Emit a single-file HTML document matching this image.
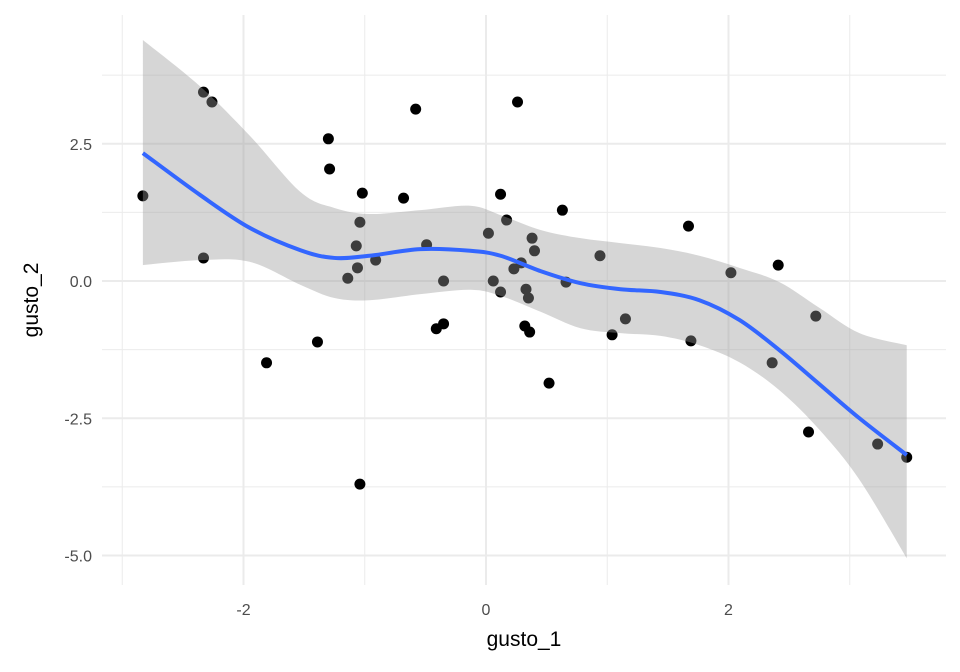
<!DOCTYPE html>
<html><head><meta charset="utf-8"><style>
body{margin:0;background:#fff;}
svg{display:block;font-family:"Liberation Sans",sans-serif;}
</style></head><body>
<svg id="chart" width="960" height="672"></svg>
<script>
const pointsX=[-2.83,-2.33,-2.26,-2.33,-1.81,-1.39,-1.30,-1.29,-1.14,-1.07,-1.06,-1.04,-1.02,-1.04,-0.91,-0.68,-0.58,-0.49,-0.41,-0.35,-0.35,0.02,0.06,0.12,0.12,0.17,0.23,0.26,0.29,0.33,0.35,0.32,0.36,0.38,0.40,0.52,0.63,0.66,0.94,1.04,1.15,1.67,1.69,2.02,2.36,2.41,2.66,2.72,3.23,3.47];
const pointsY=[1.55,3.44,3.26,0.42,-1.49,-1.11,2.59,2.04,0.05,0.64,0.24,1.07,1.60,-3.70,0.38,1.51,3.13,0.66,-0.87,-0.78,0.0,0.87,0.0,1.58,-0.20,1.11,0.22,3.26,0.33,-0.15,-0.31,-0.82,-0.93,0.78,0.55,-1.86,1.29,-0.02,0.46,-0.98,-0.69,1.0,-1.09,0.15,-1.49,0.29,-2.75,-0.64,-2.97,-3.21];
const fitX=[-2.83,-2.36,-1.95,-1.53,-1.25,-0.96,-0.54,-0.13,0.12,0.45,0.78,1.11,1.44,1.76,2.09,2.42,2.75,3.08,3.47];
const fitY=[2.33,1.57,0.97,0.56,0.42,0.46,0.58,0.55,0.46,0.18,-0.04,-0.15,-0.20,-0.35,-0.71,-1.26,-1.88,-2.50,-3.17];
const fitUpper=[4.39,3.55,2.65,1.62,1.33,1.22,1.29,1.37,1.20,0.93,0.78,0.69,0.60,0.46,0.24,-0.02,-0.49,-0.95,-1.17];
const fitLower=[0.29,0.38,0.35,-0.07,-0.31,-0.35,-0.24,-0.16,-0.27,-0.56,-0.86,-0.95,-1.00,-1.17,-1.48,-1.99,-2.71,-3.62,-5.05];
const xTicks=[-2,0,2], xMinor=[-3,-1,1,3];
const yTicks=[-5,-2.5,0,2.5], yMinor=[-3.75,-1.25,1.25,3.75];
const xTickLabels=["-2","0","2"], yTickLabels=["-5.0","-2.5","0.0","2.5"];

const NS="http://www.w3.org/2000/svg", svg=document.getElementById('chart');
const sx=v=>486+v*121.25, sy=v=>281-v*54.9;
const L=102,R=946,T=15,B=585;
function mk(t,a,p){const e=document.createElementNS(NS,t);for(const k in a)e.setAttribute(k,a[k]);(p||svg).appendChild(e);return e;}
function curve(P,move){let s=(move?'M':'L')+P[0][0]+','+P[0][1];
for(let i=0;i<P.length-1;i++){const p0=P[Math.max(i-1,0)],p1=P[i],p2=P[i+1],p3=P[Math.min(i+2,P.length-1)];
s+='C'+(p1[0]+(p2[0]-p0[0])/6)+','+(p1[1]+(p2[1]-p0[1])/6)+' '+(p2[0]-(p3[0]-p1[0])/6)+','+(p2[1]-(p3[1]-p1[1])/6)+' '+p2[0]+','+p2[1];}
return s;}
const grid=mk('g',{});


xMinor.forEach(v=>mk('line',{x1:sx(v),x2:sx(v),y1:T,y2:B,stroke:'#ebebeb','stroke-width':1},grid));
yMinor.forEach(v=>mk('line',{x1:L,x2:R,y1:sy(v),y2:sy(v),stroke:'#ebebeb','stroke-width':1},grid));
xTicks.forEach(v=>mk('line',{x1:sx(v),x2:sx(v),y1:T,y2:B,stroke:'#ebebeb','stroke-width':2},grid));
yTicks.forEach(v=>mk('line',{x1:L,x2:R,y1:sy(v),y2:sy(v),stroke:'#ebebeb','stroke-width':2},grid));
const pts=mk('g',{});


pointsX.forEach((x,i)=>{const c=mk('circle',{cx:sx(x),cy:sy(pointsY[i]),r:5.5,fill:'#000'},pts);

});
const up=fitX.map((x,i)=>[sx(x),sy(fitUpper[i])]);
const lo=fitX.map((x,i)=>[sx(x),sy(fitLower[i])]).reverse();
const rib=mk('path',{d:curve(up,true)+curve(lo,false)+'Z',fill:'#999','fill-opacity':0.4});


const ln=mk('path',{d:curve(fitX.map((x,i)=>[sx(x),sy(fitY[i])]),true),fill:'none',stroke:'#3366ff','stroke-width':4,'stroke-linejoin':'round'});


xTicks.forEach((v,i)=>{const t=mk('text',{x:sx(v),y:615,'text-anchor':'middle','font-size':16,fill:'#4d4d4d'});t.textContent=xTickLabels[i];

});
yTicks.forEach((v,i)=>{const t=mk('text',{x:92,y:sy(v)+6,'text-anchor':'end','font-size':16,fill:'#4d4d4d'});t.textContent=yTickLabels[i];

});
const xt=mk('text',{x:524,y:646,'text-anchor':'middle','font-size':21,fill:'#000'});xt.textContent='gusto_1';


const yt=mk('text',{x:0,y:0,'text-anchor':'middle','font-size':21,fill:'#000',transform:'translate(38,300) rotate(-90)'});yt.textContent='gusto_2';


</script>
</body></html>
